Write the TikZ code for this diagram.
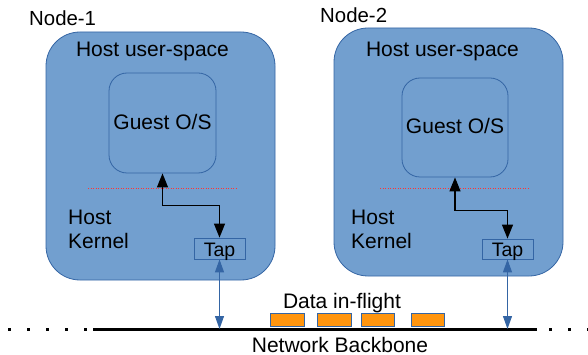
\documentclass[tikz,border=0pt]{standalone}
\usepackage{fontspec}
\setmainfont{Liberation Sans}
\usetikzlibrary{arrows.meta}
\definecolor{hostfill}{HTML}{729FCF}
\definecolor{hostdraw}{HTML}{3465A4}
\definecolor{pkt}{HTML}{FF950E}
\definecolor{kred}{HTML}{FF3333}
\begin{document}
\begin{tikzpicture}[x=1pt,y=-1pt,
  lbl/.style={inner sep=0pt, font=\fontsize{21}{25}\selectfont},
  smlbl/.style={inner sep=0pt, font=\fontsize{20.4}{24}\selectfont},
  taplbl/.style={inner sep=0pt, font=\fontsize{19.5}{23}\selectfont},
  hostbox/.style={draw=hostdraw, fill=hostfill, line width=0.8pt, rounded corners=34pt, inner sep=0pt},
  guestbox/.style={draw=hostdraw, line width=0.8pt, rounded corners=18pt, inner sep=0pt},
  tapbox/.style={draw=hostdraw, line width=0.8pt, inner sep=0pt},
  pktbox/.style={draw=hostdraw, fill=pkt, line width=0.8pt, inner sep=0pt, minimum height=13pt},
  blkarrow/.style={black, line width=1.2pt, {Triangle[length=14pt,width=11pt]}-{Triangle[length=14pt,width=11pt]}},
  bluearrow/.style={hostdraw, line width=1pt, {Triangle[length=13pt,width=9pt]}-{Triangle[length=13pt,width=9pt]}},
  kernline/.style={kred, line width=1pt, dash pattern=on 1pt off 1.5pt},
  backbone/.style={black, line width=3pt},
  dotline/.style={black, line width=3pt, dash pattern=on 3pt off 16pt}
]
\useasboundingbox (0,0) rectangle (588,355);

% Node 1
\node[hostbox, minimum width=229pt, minimum height=248pt] (n1) at (160.5,156) {};
\node[guestbox, minimum width=107pt, minimum height=100pt] (g1) at (162.5,123) {};
\node[tapbox, minimum width=51pt, minimum height=21pt] (t1) at (219.5,248.5) {};
\node[smlbl, anchor=base west] (n1name) at (29,26) {Node-1};
\node[lbl, anchor=base] (n1user) at (152.5,57) {Host user-space};
\node[lbl, anchor=base] (g1txt) at (162.5,130) {Guest O/S};
\node[lbl, anchor=base west] (n1host) at (68,224) {Host};
\node[lbl, anchor=base west] (n1kern) at (68,248) {Kernel};
\node[taplbl, anchor=base] (t1txt) at (219.5,256) {Tap};
\coordinate (r1a) at (88,189);
\coordinate (r1b) at (237,189);
\draw[kernline] (r1a) -- (r1b);

% Node 2
\node[hostbox, minimum width=229pt, minimum height=248pt] (n2) at (448.5,152) {};
\node[guestbox, minimum width=106pt, minimum height=99pt] (g2) at (455,127.5) {};
\node[tapbox, minimum width=51pt, minimum height=20pt] (t2) at (507.5,249) {};
\node[smlbl, anchor=base west] (n2name) at (320,23) {Node-2};
\node[lbl, anchor=base] (n2user) at (442.5,57) {Host user-space};
\node[lbl, anchor=base] (g2txt) at (455,134) {Guest O/S};
\node[lbl, anchor=base west] (n2host) at (351,224) {Host};
\node[lbl, anchor=base west] (n2kern) at (351,248) {Kernel};
\node[taplbl, anchor=base] (t2txt) at (507.5,256) {Tap};
\coordinate (r2a) at (380,189);
\coordinate (r2b) at (528,189);
\draw[kernline] (r2a) -- (r2b);

% Guest <-> Tap
\draw[blkarrow] (g1.south) -- ++(0,32) -| (t1.north);
\draw[blkarrow] (g2.south) -- ++(0,33) -| (t2.north);

% Backbone
\coordinate (bbL) at (93,329);
\coordinate (bbR) at (537,329);
\coordinate (dL1) at (8,329);
\coordinate (dL2) at (88,329);
\coordinate (dR1) at (549,329);
\coordinate (dR2) at (592,329);
\draw[backbone] (bbL) -- (bbR);
\draw[dotline] (dL1) -- (dL2);
\draw[dotline] (dR1) -- (dR2);

% Tap <-> Backbone
\draw[bluearrow] (t1.south) -- (t1.south |- bbL);
\draw[bluearrow] (t2.south) -- (t2.south |- bbL);

% Packets
\node[pktbox, minimum width=34pt] (p1) at (287,319.5) {};
\node[pktbox, minimum width=34pt] (p2) at (334,319.5) {};
\node[pktbox, minimum width=33pt] (p3) at (377.5,319.5) {};
\node[pktbox, minimum width=33pt] (p4) at (427.5,319.5) {};
\node[lbl, anchor=base] (data) at (342,308) {Data in-flight};
\node[lbl, anchor=base] (net) at (340,352) {Network Backbone};
\end{tikzpicture}
\end{document}
